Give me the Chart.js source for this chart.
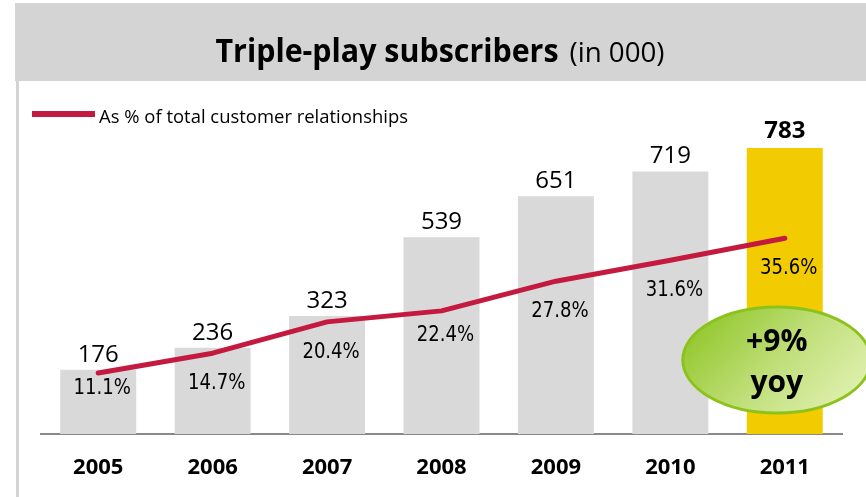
<!DOCTYPE html>
<html>
<head>
<meta charset="utf-8">
<script src="https://cdn.jsdelivr.net/npm/chart.js@4.4.1/dist/chart.umd.min.js"></script>
<style>
  html, body { margin: 0; padding: 0; background: #fff; }
  #wrap { width: 866px; height: 497px; }
</style>
</head>
<body>
<div id="wrap"><canvas id="myChart" width="866" height="497"></canvas></div>
<script>
const years = ["2005", "2006", "2007", "2008", "2009", "2010", "2011"];
const subscribers = [176, 236, 323, 539, 651, 719, 783];
const shareOfCustomers = [11.1, 14.7, 20.4, 22.4, 27.8, 31.6, 35.6];
const growthText = ["+9%", "yoy"];

const titleBold = "Triple-play subscribers";
const titleLight = "(in 000)";
const legendText = "As % of total customer relationships";

const LINE_RED = "#c51a3f";
const BAR_GREY = "#d9d9d9";
const BAR_HIGHLIGHT = "#f2cc00";

// draw text compressed horizontally (the deck uses narrow fonts)
function drawSqueezed(ctx, text, x, y, sx, align) {
  ctx.save();
  ctx.translate(x, y);
  ctx.scale(sx, 1);
  ctx.textAlign = align || "center";
  ctx.fillText(text, 0, 0);
  ctx.restore();
}

function scaleToWidth(ctx, text, width) {
  return width / ctx.measureText(text).width;
}

// grey title band, left rule, title and the line legend
const headerPlugin = {
  id: "header",
  beforeDraw(chart) {
    const ctx = chart.ctx;
    ctx.save();
    ctx.fillStyle = "#d4d4d4";
    ctx.fillRect(15, 3, chart.width - 15, 78);
    ctx.fillRect(16, 81, 3, chart.height - 81);

    ctx.fillStyle = "#000";
    ctx.textBaseline = "alphabetic";
    ctx.font = "bold 33px 'Open Sans'";
    const sxBold = scaleToWidth(ctx, titleBold, 343);
    const wBold = ctx.measureText(titleBold).width * sxBold;
    ctx.font = "28px 'Open Sans'";
    const sxLight = scaleToWidth(ctx, titleLight, 95);
    const wLight = ctx.measureText(titleLight).width * sxLight;
    const gap = 11;
    let x = 440 - (wBold + gap + wLight) / 2;
    ctx.font = "bold 33px 'Open Sans'";
    drawSqueezed(ctx, titleBold, x, 62, sxBold, "left");
    ctx.font = "28px 'Open Sans'";
    drawSqueezed(ctx, titleLight, x + wBold + gap, 62, sxLight, "left");

    ctx.fillStyle = LINE_RED;
    ctx.fillRect(32, 111, 63, 6);
    ctx.fillStyle = "#000";
    ctx.font = "18px 'Open Sans'";
    drawSqueezed(ctx, legendText, 99, 123, scaleToWidth(ctx, legendText, 309), "left");
    ctx.restore();
  }
};

// subscriber numbers above bars, percentages under the line
const valueLabelPlugin = {
  id: "valueLabels",
  afterDatasetsDraw(chart, args, opts) {
    const ctx = chart.ctx;
    const bars = chart.getDatasetMeta(0).data;
    const points = chart.getDatasetMeta(1).data;
    ctx.save();
    ctx.fillStyle = "#000";
    ctx.textBaseline = "alphabetic";
    ctx.textAlign = "center";
    bars.forEach((bar, i) => {
      const last = i === bars.length - 1;
      ctx.font = (last ? "bold " : "") + "24px 'Open Sans'";
      ctx.fillText(String(subscribers[i]), bar.x, bar.y - (last ? 10 : 8));
    });
    ctx.font = "21px 'DejaVu Sans'";
    points.forEach((pt, i) => {
      const label = shareOfCustomers[i].toFixed(1) + "%";
      drawSqueezed(ctx, label, pt.x + 4, pt.y + opts.drop[i], 0.86, "center");
    });
    ctx.restore();
  }
};

// green "+9% yoy" callout next to the last bar
const growthBubblePlugin = {
  id: "growthBubble",
  afterDraw(chart) {
    const ctx = chart.ctx;
    const xs = chart.scales.x;
    const cx = xs.getPixelForValue(years.length - 1) - 8;
    const cy = chart.chartArea.bottom - 74;
    const rx = 94, ry = 53;
    ctx.save();
    const grad = ctx.createLinearGradient(cx - rx * 0.6, cy - ry, cx + rx * 0.6, cy + ry);
    grad.addColorStop(0, "#96c933");
    grad.addColorStop(0.55, "#c2e07e");
    grad.addColorStop(1, "#ddefab");
    ctx.beginPath();
    ctx.ellipse(cx, cy, rx, ry, 0, 0, Math.PI * 2);
    ctx.fillStyle = grad;
    ctx.fill();
    ctx.lineWidth = 3;
    ctx.strokeStyle = "#8dc21c";
    ctx.stroke();

    ctx.fillStyle = "#000";
    ctx.textAlign = "center";
    ctx.textBaseline = "alphabetic";
    ctx.font = "bold 30px 'Open Sans'";
    ctx.fillText(growthText[0], cx, cy - 9);
    ctx.fillText(growthText[1], cx, cy + 32);
    ctx.restore();
  }
};

const barColors = years.map((y, i) => (i === years.length - 1 ? BAR_HIGHLIGHT : BAR_GREY));

const ctx = document.getElementById("myChart").getContext("2d");

new Chart(ctx, {
  type: "bar",
  data: {
    labels: years,
    datasets: [
      {
        label: "Triple-play subscribers",
        data: subscribers,
        backgroundColor: barColors,
        borderWidth: 0,
        barPercentage: 0.664,
        categoryPercentage: 1.0,
        yAxisID: "y",
        order: 1,
      },
      {
        type: "line",
        label: legendText,
        data: shareOfCustomers,
        borderColor: LINE_RED,
        borderWidth: 5,
        borderCapStyle: "round",
        borderJoinStyle: "round",
        pointRadius: 0,
        tension: 0,
        fill: false,
        yAxisID: "y2",
        order: 0,
      },
    ],
  },
  options: {
    responsive: false,
    animation: false,
    events: [],
    layout: { padding: { top: 124, left: 41, right: 24, bottom: 0 } },
    plugins: {
      legend: { display: false },
      tooltip: { enabled: false },
      title: { display: false },
      valueLabels: { drop: [21, 36, 36, 30, 36, 36, 36] },
    },
    scales: {
      x: {
        grid: { display: false, drawTicks: false },
        border: { display: true, color: "#898989", width: 2 },
        ticks: {
          color: "#000",
          padding: 21,
          font: { family: "'Open Sans'", size: 22, weight: "bold" },
        },
        afterFit(scale) {
          scale.height = 63;
        },
      },
      y: { display: false, min: 0, max: 849 },
      y2: { display: false, min: 0, max: 56.4, position: "right" },
    },
  },
  plugins: [headerPlugin, valueLabelPlugin, growthBubblePlugin],
});
</script>
</body>
</html>
